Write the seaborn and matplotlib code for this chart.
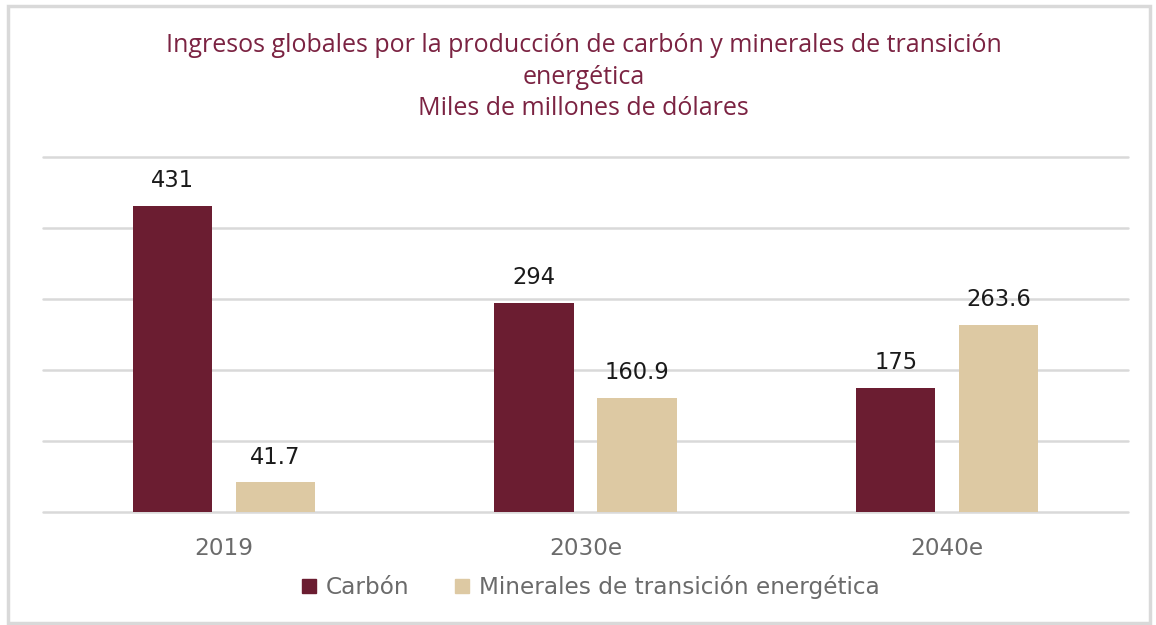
import matplotlib
matplotlib.use("Agg")
import matplotlib.pyplot as plt
import seaborn as sns
import pandas as pd
from matplotlib.patches import Rectangle
from matplotlib.lines import Line2D

years = ["2019", "2030e", "2040e"]
series = ["Carbón", "Minerales de transición energética"]
carbon = [431, 294, 175]
minerales = [41.7, 160.9, 263.6]
carbon_labels = ["431", "294", "175"]
minerales_labels = ["41.7", "160.9", "263.6"]
title_lines = ["Ingresos globales por la producción de carbón y minerales de transición",
               "energética", "Miles de millones de dólares"]

colors = {"Carbón": "#6B1D31", "Minerales de transición energética": "#DDC9A3"}

df = pd.DataFrame({
    "year": years * 2,
    "serie": [series[0]] * 3 + [series[1]] * 3,
    "value": carbon + minerales,
})

sns.set_theme(style="white")
plt.rcParams["font.family"] = ["DejaVu Sans"]

fig = plt.figure(figsize=(11.56, 6.25), dpi=100)
ax = fig.add_axes([43 / 1156, 1 - 512 / 625, (1128 - 43) / 1156, (512 - 157) / 625])

sns.barplot(data=df, x="year", y="value", hue="serie", palette=colors,
            width=0.57, gap=0.23, ax=ax, legend=False, saturation=1, zorder=3,
            linewidth=0, edgecolor="none")

ax.set_ylim(0, 500)
ax.set_xlim(-0.5, 2.5)
ax.set_yticks([0, 100, 200, 300, 400, 500])
ax.set_yticklabels([])
ax.grid(axis="y", color="#D9D9D9", linewidth=1.8, zorder=0)
ax.grid(axis="x", visible=False)
for gl in ax.get_ygridlines():
    gl.set_clip_on(False)
for s in ax.spines.values():
    s.set_visible(False)
ax.set_xlabel("")
ax.set_ylabel("")
ax.tick_params(axis="x", length=0, pad=18, labelsize=16.7, labelcolor="#6B6B6B")
ax.tick_params(axis="y", length=0)

labels_all = [carbon_labels, minerales_labels]
for cont, labs in zip(ax.containers, labels_all):
    ax.bar_label(cont, labels=labs, padding=10, fontsize=16.3, color="#1a1a1a")

fig.text(0.505, 1 - 77 / 625, "\n".join(title_lines), ha="center", va="center",
         fontsize=18, color="#7B2342", family=["Open Sans", "DejaVu Sans"],
         linespacing=1.32)

handles = [Line2D([], [], marker="s", linestyle="none", markersize=10,
                  markerfacecolor=colors[s], markeredgecolor=colors[s]) for s in series]
fig.legend(handles, series, loc="center", bbox_to_anchor=(0.51, 1 - 587 / 625), ncol=2,
           frameon=False, fontsize=16.7, labelcolor="#6B6B6B", handletextpad=0.3,
           columnspacing=1.9, handlelength=0.8)

fig.patches.append(Rectangle((8 / 1156, 2 / 625), 1142 / 1156, 617 / 625, transform=fig.transFigure,
                             fill=False, edgecolor="#D9D9D9", linewidth=2.5))

fig.savefig("out.png", dpi=100)
